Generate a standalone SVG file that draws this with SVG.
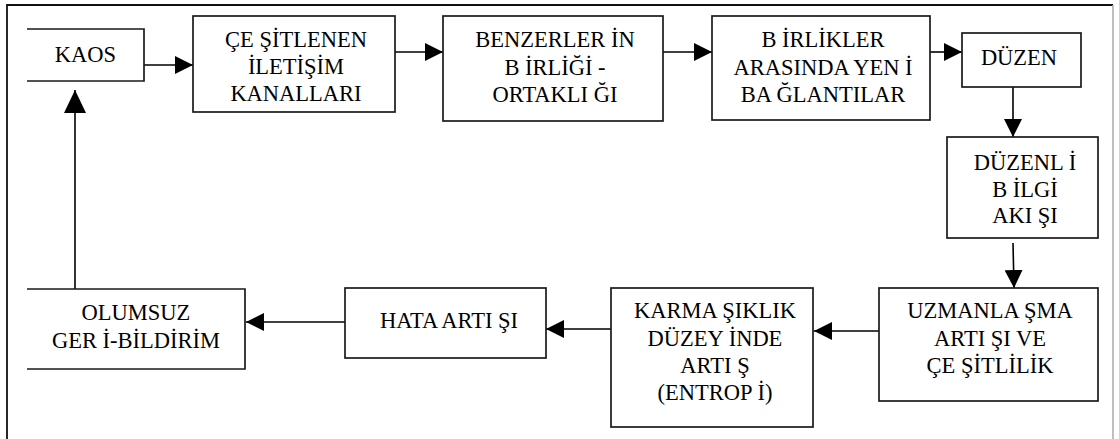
<svg xmlns="http://www.w3.org/2000/svg" width="1119" height="439" viewBox="0 0 1119 439">
<style>
.box{fill:#fff;stroke:#1a1a1a;stroke-width:1.7}
.open{fill:none;stroke:#1a1a1a;stroke-width:1.7}
.lbl{font-family:'Liberation Serif','DejaVu Serif','Times New Roman',Times,serif;font-size:22.5px;fill:#000;text-anchor:middle}
.con{fill:none;stroke:#000;stroke-width:1.6}
</style>
<defs>
<marker id="ah" markerUnits="userSpaceOnUse" markerWidth="19" markerHeight="18" refX="18" refY="9" orient="auto">
<path d="M0,0 L18,9 L0,18 z" fill="#000"/>
</marker>
<marker id="ahL" markerUnits="userSpaceOnUse" markerWidth="24" markerHeight="23" refX="23" refY="11" orient="auto">
<path d="M0,0 L23,11 L0,22 z" fill="#000"/>
</marker>
</defs>
<rect width="1119" height="439" fill="#fff"/>
<g id="frame">
<path d="M7,439 V5 H1113" fill="none" stroke="#111" stroke-width="1.8"/>
<path d="M1113,5 V439" fill="none" stroke="#aaa" stroke-width="1.5"/>
</g>
<g id="connectors">
<line class="con" x1="144" y1="65" x2="193" y2="65" marker-end="url(#ah)"/>
<line class="con" x1="395" y1="52" x2="443" y2="52" marker-end="url(#ah)"/>
<line class="con" x1="663" y1="52" x2="712" y2="52" marker-end="url(#ah)"/>
<line class="con" x1="930" y1="52" x2="962" y2="52" marker-end="url(#ah)"/>
<line class="con" x1="1013" y1="87" x2="1013" y2="137" marker-end="url(#ah)"/>
<line class="con" x1="1013" y1="243" x2="1014" y2="288" marker-end="url(#ah)"/>
<line class="con" x1="879" y1="331" x2="814" y2="331" marker-end="url(#ah)"/>
<line class="con" x1="611" y1="329" x2="546" y2="329" marker-end="url(#ah)"/>
<line class="con" x1="345" y1="322" x2="246" y2="322" marker-end="url(#ah)"/>
<line class="con" x1="75" y1="289" x2="75" y2="90" marker-end="url(#ahL)"/>
</g>
<g id="kaos">
<path class="open" d="M27,29 H144 V81 H27"/>
<text class="lbl" x="85.5" y="62" font-family="Liberation Serif, serif">KAOS</text>
</g>
<g id="cesitlenen">
<rect class="box" x="193" y="16" width="202" height="96"/>
<text class="lbl" x="296" y="47">ÇE ŞİTLENEN</text>
<text class="lbl" x="296" y="74">İLETİŞİM</text>
<text class="lbl" x="296" y="101">KANALLARI</text>
</g>
<g id="benzerler">
<rect class="box" x="443" y="16" width="220" height="105"/>
<text class="lbl" x="555" y="47">BENZERLER İN</text>
<text class="lbl" x="555" y="75">B İRLİĞİ -</text>
<text class="lbl" x="555" y="102">ORTAKLI ĞI</text>
</g>
<g id="birlikler">
<rect class="box" x="712" y="16" width="218" height="104"/>
<text class="lbl" x="823" y="47">B İRLİKLER</text>
<text class="lbl" x="823" y="75">ARASINDA YEN İ</text>
<text class="lbl" x="823" y="102">BA ĞLANTILAR</text>
</g>
<g id="duzen">
<rect class="box" x="962" y="33" width="119" height="54"/>
<text class="lbl" x="1019" y="65">DÜZEN</text>
</g>
<g id="duzenli">
<rect class="box" x="947" y="137" width="151" height="101"/>
<text class="lbl" x="1025" y="170">DÜZENL İ</text>
<text class="lbl" x="1025" y="197">B İLGİ</text>
<text class="lbl" x="1025" y="223">AKI ŞI</text>
</g>
<g id="uzmanlasma">
<rect class="box" x="879" y="288" width="219" height="113"/>
<text class="lbl" x="990" y="318">UZMANLA ŞMA</text>
<text class="lbl" x="990" y="346">ARTI ŞI VE</text>
<text class="lbl" x="990" y="373">ÇE ŞİTLİLİK</text>
</g>
<g id="karmasiklik">
<rect class="box" x="611" y="288" width="202" height="139"/>
<text class="lbl" x="715" y="318">KARMA ŞIKLIK</text>
<text class="lbl" x="715" y="346">DÜZEY İNDE</text>
<text class="lbl" x="715" y="373">ARTI Ş</text>
<text class="lbl" x="715" y="400">(ENTROP İ)</text>
</g>
<g id="hata">
<rect class="box" x="345" y="288" width="201" height="70"/>
<text class="lbl" x="449" y="328">HATA ARTI ŞI</text>
</g>
<g id="olumsuz">
<path class="open" d="M27,289 H245 V369 H27"/>
<text class="lbl" x="136" y="320">OLUMSUZ</text>
<text class="lbl" x="136" y="348">GER İ-BİLDİRİM</text>
</g>
</svg>
